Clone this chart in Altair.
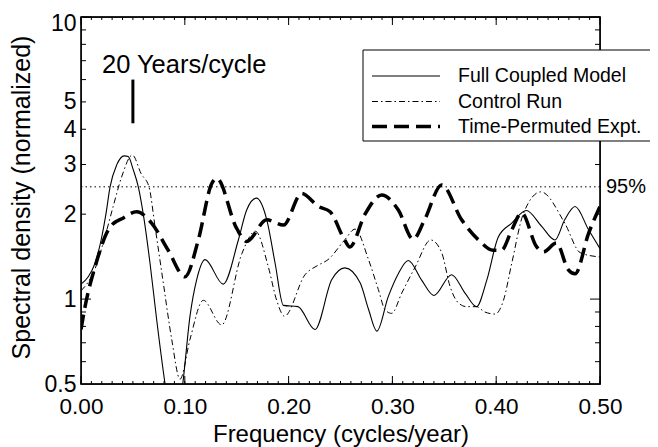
import math
import altair as alt
import pandas as pd

SERIES = ["Full Coupled Model", "Control Run", "Time-Permuted Expt."]

full_f = [0.000, 0.007, 0.0135, 0.020, 0.024, 0.028, 0.0344, 0.0417, 0.0455, 0.0504, 0.0552, 0.060, 0.0665,
          0.073, 0.081, 0.089, 0.098, 0.105, 0.1114, 0.1195, 0.137, 0.1516, 0.1596, 0.169, 0.179, 0.187,
          0.195, 0.209, 0.2254, 0.2415, 0.2543, 0.269, 0.277, 0.285, 0.296, 0.3057, 0.3153, 0.328, 0.340,
          0.357, 0.370, 0.381, 0.391, 0.402, 0.415, 0.429, 0.4438, 0.4566, 0.466, 0.476, 0.489, 0.500]
full_v = [1.13, 1.20, 1.34, 1.66, 2.00, 2.50, 2.99, 3.22, 3.20, 2.87, 2.50, 2.00, 1.34,
          0.84, 0.50, 0.33, 0.50, 0.87, 1.17, 1.38, 1.13, 1.62, 2.07, 2.28, 1.91, 1.34,
          0.95, 0.94, 0.78, 1.17, 1.29, 1.14, 0.92, 0.77, 1.02, 1.23, 1.37, 1.17, 1.03,
          1.22, 1.05, 0.94, 1.17, 1.66, 1.86, 2.06, 1.81, 1.62, 1.91, 2.13, 1.76, 1.51]

ctrl_f = [0.000, 0.0135, 0.023, 0.031, 0.039, 0.0495, 0.058, 0.0655, 0.0713, 0.0793, 0.0874, 0.0954,
          0.105, 0.1178, 0.1355, 0.155, 0.168, 0.1805, 0.1885, 0.196, 0.2158, 0.2287, 0.238, 0.254,
          0.264, 0.277, 0.2865, 0.293, 0.2993, 0.309, 0.322, 0.337, 0.3475, 0.3555, 0.3635, 0.3716,
          0.381, 0.389, 0.399, 0.407, 0.415, 0.426, 0.443, 0.466, 0.481, 0.500]
ctrl_v = [1.07, 1.28, 1.66, 2.13, 2.70, 3.24, 2.78, 2.50, 1.81, 1.14, 0.72, 0.52,
          0.72, 0.99, 0.81, 1.45, 1.74, 1.30, 0.99, 0.87, 1.22, 1.32, 1.38, 1.62,
          1.77, 1.38, 1.08, 0.915, 0.89, 1.05, 1.30, 1.62, 1.46, 1.11, 0.97, 0.94,
          0.94, 0.90, 0.885, 0.99, 1.34, 2.00, 2.40, 1.86, 1.46, 1.41]

perm_f = [0.000, 0.0039, 0.0135, 0.028, 0.0408, 0.0536, 0.068, 0.084, 0.1002, 0.113, 0.126, 0.1307,
          0.150, 0.1596, 0.179, 0.195, 0.2126, 0.2287, 0.240, 0.254, 0.259, 0.2736, 0.2897, 0.3057,
          0.320, 0.331, 0.3475, 0.3667, 0.383, 0.397, 0.405, 0.415, 0.4245, 0.439, 0.4455, 0.458,
          0.4695, 0.476, 0.489, 0.500]
perm_v = [0.78, 0.94, 1.30, 1.80, 1.94, 2.04, 1.86, 1.49, 1.20, 1.62, 2.57, 2.68,
          1.78, 1.60, 1.91, 1.83, 2.37, 2.13, 2.04, 1.62, 1.53, 2.00, 2.34, 2.07,
          1.63, 1.91, 2.54, 1.91, 1.62, 1.49, 1.49, 1.76, 2.02, 1.53, 1.47, 1.58,
          1.27, 1.23, 1.71, 2.13]

X_DOMAIN = [0.0, 0.5]
Y_DOMAIN = [0.5, 10]
X_TICK_LABELS = [0.0, 0.1, 0.2, 0.3, 0.4, 0.5]
X_MINOR = [i / 100 for i in range(51)]
Y_TICK_LABELS = [0.5, 1, 2, 3, 4, 5, 10]
Y_MAJOR = [1, 10]
Y_MINOR = [0.6, 0.7, 0.8, 0.9, 2, 3, 4, 5, 6, 7, 8, 9]

SIG_LEVEL = 2.5
SIG_LABEL = "95%"
PERIOD_FREQ = 0.05
PERIOD_BAR = [4.2, 6.0]
PERIOD_TEXT = "20 Years/cycle"
PERIOD_TEXT_POS = [0.0202, 6.35]

FONT = "Liberation Sans"
W = 519
H = 367

rows = []
for name, fs, vs in [(SERIES[0], full_f, full_v), (SERIES[1], ctrl_f, ctrl_v), (SERIES[2], perm_f, perm_v)]:
    for f, v in zip(fs, vs):
        rows.append({"series": name, "f": f, "v": v})
df = pd.DataFrame(rows)

xs = alt.Scale(domain=X_DOMAIN, nice=False, zero=False)
ys = alt.Scale(type="log", domain=Y_DOMAIN, nice=False)

x_per_px = (X_DOMAIN[1] - X_DOMAIN[0]) / W
y_ratio = lambda px: 10 ** (px * math.log10(Y_DOMAIN[1] / Y_DOMAIN[0]) / H)

x_axis = alt.Axis(values=X_TICK_LABELS, format=".2f", title="Frequency (cycles/year)", orient="bottom",
                  ticks=False, domain=False, grid=False, labelFlush=False,
                  labelFontSize=22.5, labelPadding=11, labelColor="black", labelFont=FONT,
                  titleFontSize=24, titleFontWeight="normal", titleColor="black", titleFont=FONT,
                  titleY=57, titleBaseline="alphabetic")
y_axis = alt.Axis(values=Y_TICK_LABELS, format="~g", title="Spectral density (normalized)", orient="left",
                  ticks=False, domain=False, grid=False, labelFlush=False,
                  labelOffset={"condition": {"test": "datum.value >= 10", "value": 6}, "value": 0},
                  labelFontSize=23, labelPadding=5, labelColor="black", labelFont=FONT,
                  titleFontSize=25, titleFontWeight="normal", titleColor="black", titleFont=FONT,
                  titleX=-52, titleY=180, titleBaseline="alphabetic")

styles = {
    SERIES[0]: dict(strokeWidth=1.1),
    SERIES[1]: dict(strokeWidth=1.0, strokeDash=[6, 3, 1.5, 3]),
    SERIES[2]: dict(strokeWidth=3.5, strokeDash=[15, 7]),
}

X = lambda fld: alt.X(fld, scale=xs, axis=None)
Y = lambda fld: alt.Y(fld, scale=ys, axis=None)

layers = [alt.Chart(df).mark_point(opacity=0)
          .encode(x=alt.X("f:Q", scale=xs, axis=x_axis), y=alt.Y("v:Q", scale=ys, axis=y_axis))]

for name in SERIES:
    layers.append(
        alt.Chart(df).transform_filter(alt.datum.series == name)
        .mark_line(color="black", interpolate="monotone", clip=True, **styles[name])
        .encode(x=X("f:Q"), y=Y("v:Q"), order="f:Q")
    )

layers.append(alt.Chart(pd.DataFrame({"v": [SIG_LEVEL]})).mark_rule(color="black", strokeWidth=1, strokeDash=[1.5, 3])
              .encode(y=Y("v:Q")))
layers.append(alt.Chart(pd.DataFrame({"v": [SIG_LEVEL], "t": [SIG_LABEL]}))
              .mark_text(align="left", baseline="middle", fontSize=20, font=FONT, color="black", dx=6)
              .encode(x=alt.value(W), y=Y("v:Q"), text="t:N"))

layers.append(alt.Chart(pd.DataFrame({"f": [PERIOD_FREQ], "v": [PERIOD_BAR[0]], "v2": [PERIOD_BAR[1]]}))
              .mark_rule(color="black", strokeWidth=3)
              .encode(x=X("f:Q"), y=Y("v:Q"), y2="v2:Q"))
layers.append(alt.Chart(pd.DataFrame({"f": [PERIOD_TEXT_POS[0]], "v": [PERIOD_TEXT_POS[1]], "t": [PERIOD_TEXT]}))
              .mark_text(align="left", baseline="alphabetic", fontSize=25.5, font=FONT, color="black")
              .encode(x=X("f:Q"), y=Y("v:Q"), text="t:N"))

# inward ticks through the scales
xt = []
for vals, ln in [(X_MINOR, 3), (X_TICK_LABELS, 8)]:
    for f in vals:
        xt.append({"f": f, "v": Y_DOMAIN[0], "v2": Y_DOMAIN[0] * y_ratio(ln)})
        xt.append({"f": f, "v": Y_DOMAIN[1], "v2": Y_DOMAIN[1] / y_ratio(ln)})
layers.append(alt.Chart(pd.DataFrame(xt)).mark_rule(color="black", strokeWidth=1)
              .encode(x=X("f:Q"), y=Y("v:Q"), y2="v2:Q"))
yt = []
for vals, ln in [(Y_MINOR, 5), (Y_MAJOR, 10)]:
    for v in vals:
        yt.append({"v": v, "f": X_DOMAIN[0], "f2": X_DOMAIN[0] + ln * x_per_px})
        yt.append({"v": v, "f": X_DOMAIN[1], "f2": X_DOMAIN[1] - ln * x_per_px})
layers.append(alt.Chart(pd.DataFrame(yt)).mark_rule(color="black", strokeWidth=1)
              .encode(y=Y("v:Q"), x=X("f:Q"), x2="f2:Q"))

# plot frame (single outlined rectangle over the scale domains)
frame = pd.DataFrame({"f": [X_DOMAIN[0]], "f2": [X_DOMAIN[1]], "v": [Y_DOMAIN[0]], "v2": [Y_DOMAIN[1]]})
layers.append(alt.Chart(frame).mark_rect(fillOpacity=0, stroke="black", strokeWidth=1.3)
              .encode(x=X("f:Q"), x2="f2:Q", y=Y("v:Q"), y2="v2:Q"))

# legend
layers.append(alt.Chart(pd.DataFrame({"a": [0]})).mark_rect(fill="white", stroke="black", strokeWidth=1)
              .encode(x=alt.value(282), x2=alt.value(582), y=alt.value(33), y2=alt.value(124)))
row_y = [59, 84.5, 109.5]
for i, name in enumerate(SERIES):
    layers.append(alt.Chart(pd.DataFrame({"a": [0]})).mark_rule(color="black", **styles[name])
                  .encode(x=alt.value(291), x2=alt.value(359), y=alt.value(row_y[i])))
    layers.append(alt.Chart(pd.DataFrame({"t": [name]}))
                  .mark_text(align="left", baseline="middle", fontSize=19.5, font=FONT, color="black")
                  .encode(x=alt.value(377), y=alt.value(row_y[i]), text="t:N"))

chart = alt.layer(*layers).resolve_axis(x="independent", y="independent").properties(
    width=W, height=H,
    padding={"left": 73, "top": 9, "right": 50, "bottom": 63},
    autosize=alt.AutoSizeParams(type="none"),
    background="white",
).configure(font=FONT).configure_view(stroke="black", strokeWidth=1.3)

chart.save("out.html", embed_options={"renderer": "svg", "actions": False})
